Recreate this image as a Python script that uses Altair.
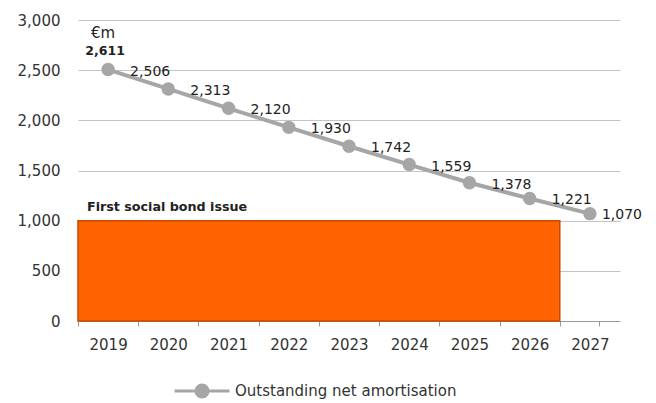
import altair as alt
import pandas as pd

# ---- data ----
years = ["2019", "2020", "2021", "2022", "2023", "2024", "2025", "2026", "2027"]
outstanding = [2506, 2313, 2120, 1930, 1742, 1559, 1378, 1221, 1070]
series_name = "Outstanding net amortisation"
first_value_label = "2,611"
unit_label = "€m"
bond_first_year = "2019"
bond_last_year = "2026"
bond_value = 1000
bond_text = "First social bond issue"
y_ticks = [0, 500, 1000, 1500, 2000, 2500, 3000]

GREY = "#A6A6A6"
ORANGE = "#FF6200"
FONT = "DejaVu Sans"

line_df = pd.DataFrame({
    "year": years,
    "value": outstanding,
    "series": [series_name] * len(years),
    "last": [False] * (len(years) - 1) + [True],
})
bond_df = pd.DataFrame({
    "start": [years.index(bond_first_year)],
    "end": [years.index(bond_last_year) + 1],
    "value": [bond_value], "zero": [0], "text": [bond_text],
})
first_df = pd.DataFrame({"year": [years[0]], "value": [outstanding[0]],
                         "lab": [first_value_label], "unit": [unit_label]})

W, H = 521, 301
RANGE = [0, 542]
n = len(years)
boundary_ticks = list(range(n)) + [round(n * W / RANGE[1], 3)]

xscale = alt.Scale(domain=years, range=RANGE, paddingInner=0, paddingOuter=0)
xqscale = alt.Scale(domain=[0, n], range=RANGE, nice=False, zero=False)
yscale = alt.Scale(domain=[0, 3000], nice=False)

# category labels (no ticks)
xaxis = alt.Axis(title=None, orient="bottom", domain=False, ticks=False, labelPadding=16,
                 labelAngle=0, labelFontSize=15, labelColor="#333333", grid=False,
                 labelFont=FONT)
# boundary ticks (no labels)
xqaxis = alt.Axis(title=None, orient="bottom", domain=False, ticks=True, tickColor="#999999",
                  tickSize=5, values=boundary_ticks, labels=False, grid=False)
yaxis = alt.Axis(title=None, values=y_ticks, labelExpr="format(datum.value, ',')",
                 grid=True,
                 gridColor={"condition": {"test": "datum.value === 0", "value": "#999999"},
                            "value": "#C4C4C4"},
                 domain=False, ticks=False, labelPadding=18, labelFontSize=15,
                 labelColor="#333333", labelFont=FONT)

rect = alt.Chart(bond_df).mark_rect(color=ORANGE, stroke="#C44B00", strokeWidth=1.5).encode(
    x=alt.X("start:Q", scale=xqscale, axis=xqaxis),
    x2="end:Q",
    y=alt.Y("value:Q", scale=yscale, axis=yaxis),
    y2="zero:Q",
)

bond_lab = alt.Chart(bond_df).mark_text(align="left", baseline="middle", dx=9, dy=-14,
                                        fontSize=12.7, fontWeight="bold", font=FONT,
                                        color="#222222").encode(
    x=alt.X("start:Q", scale=xqscale),
    y=alt.Y("value:Q", scale=yscale),
    text="text:N",
)

path = "M-1,0H1M-0.22,0A0.22,0.22,0,1,0,0.22,0A0.22,0.22,0,1,0,-0.22,0Z"
color = alt.Color("series:N", scale=alt.Scale(range=[GREY]),
                  legend=alt.Legend(title=None, orient="none", legendX=95, legendY=342,
                                    symbolType=path, symbolSize=3025, symbolStrokeWidth=3,
                                    symbolFillColor=GREY, symbolStrokeColor=GREY,
                                    labelOffset=4, labelFontSize=15, labelColor="#333333",
                                    labelFont=FONT, labelLimit=0))

line = alt.Chart(line_df).mark_line(strokeWidth=4).encode(
    x=alt.X("year:O", scale=xscale, axis=xaxis),
    y=alt.Y("value:Q", scale=yscale),
    color=color,
)
pts = alt.Chart(line_df).mark_circle(size=180, opacity=1).encode(
    x=alt.X("year:O", scale=xscale, axis=xaxis),
    y=alt.Y("value:Q", scale=yscale),
    color=color,
)

lab_main = alt.Chart(line_df).transform_filter("!datum.last").mark_text(
    align="left", baseline="middle", dx=22, dy=2, fontSize=14, color="#222222", font=FONT
).encode(
    x=alt.X("year:O", scale=xscale, axis=xaxis),
    y=alt.Y("value:Q", scale=yscale),
    text=alt.Text("value:Q", format=","),
)
lab_last = alt.Chart(line_df).transform_filter("datum.last").mark_text(
    align="left", baseline="middle", dx=12, dy=1, fontSize=14, color="#222222", font=FONT
).encode(
    x=alt.X("year:O", scale=xscale, axis=xaxis),
    y=alt.Y("value:Q", scale=yscale),
    text=alt.Text("value:Q", format=","),
)

first_lab = alt.Chart(first_df).mark_text(align="center", baseline="middle", dy=-19, dx=-3,
                                          fontSize=12.5, fontWeight="bold",
                                          color="#222222", font=FONT).encode(
    x=alt.X("year:O", scale=xscale, axis=xaxis),
    y=alt.Y("value:Q", scale=yscale),
    text="lab:N",
)
unit_lab = alt.Chart(first_df).mark_text(align="center", baseline="middle", dy=-37, dx=-5,
                                         fontSize=15, color="#222222", font=FONT).encode(
    x=alt.X("year:O", scale=xscale, axis=xaxis),
    y=alt.Y("value:Q", scale=yscale),
    text="unit:N",
)

back = alt.layer(rect, bond_lab)
front = alt.layer(line, pts, lab_main, lab_last, first_lab, unit_lab)

chart = alt.layer(back, front).resolve_scale(
    x="independent"
).properties(
    width=W, height=H,
    autosize=alt.AutoSizeParams(type="none"),
    padding={"left": 78, "top": 20, "right": 57, "bottom": 82},
).configure(font=FONT, background="white").configure_view(stroke=None)

chart.save("out.html", embed_options={"renderer": "svg", "actions": False})
